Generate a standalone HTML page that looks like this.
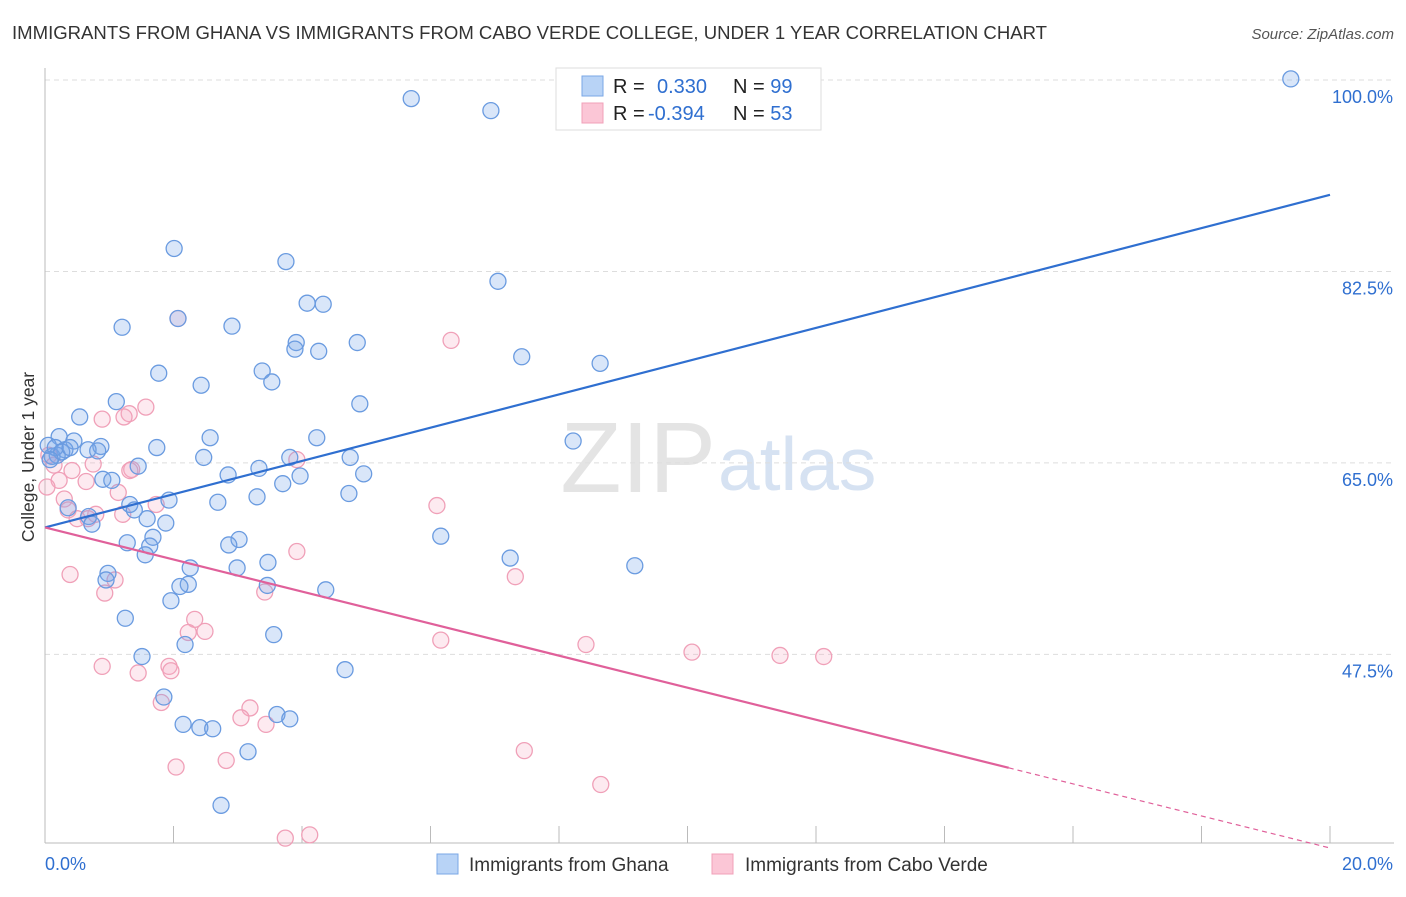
<!DOCTYPE html>
<html><head><meta charset="utf-8"><style>
body{margin:0;background:#fff;font-family:"Liberation Sans",sans-serif;}
svg text{font-family:"Liberation Sans",sans-serif;}
</style></head><body>
<svg id="c" width="1406" height="892" xmlns="http://www.w3.org/2000/svg">
<text x="12" y="39" font-size="18" fill="#333" textLength="1035" lengthAdjust="spacingAndGlyphs">IMMIGRANTS FROM GHANA VS IMMIGRANTS FROM CABO VERDE COLLEGE, UNDER 1 YEAR CORRELATION CHART</text>
<text x="1394" y="39" font-size="15" fill="#555" text-anchor="end" font-style="italic">Source: ZipAtlas.com</text>
<text x="716" y="492" font-size="100" fill="#e4e4e4" text-anchor="end" font-family="Liberation Serif">ZIP</text>
<text x="718" y="490" font-size="75" fill="#d6e2f2">atlas</text>
<text x="34" y="457" font-size="17.5" fill="#333" text-anchor="middle" transform="rotate(-90 34 457)">College, Under 1 year</text>
<g id="grid"></g><g id="pts"></g><g id="lines"></g>
<g>
<rect x="556" y="68" width="265" height="62" fill="#fff" stroke="#ddd"/>
<rect x="582" y="76" width="21" height="20" fill="#b8d3f6" stroke="#7aa7e6"/>
<rect x="582" y="103" width="21" height="20" fill="#fbc6d6" stroke="#f0a0b8"/>
<text x="613" y="93" font-size="20" fill="#222">R = <tspan x="657" fill="#2f6fd0">0.330</tspan><tspan x="733" fill="#222">N = </tspan><tspan fill="#2f6fd0">99</tspan></text>
<text x="613" y="120" font-size="20" fill="#222">R = <tspan x="648" fill="#2f6fd0">-0.394</tspan><tspan x="733" fill="#222">N = </tspan><tspan fill="#2f6fd0">53</tspan></text>
</g>
<g>
<rect x="437" y="854" width="21" height="20" fill="#b8d3f6" stroke="#7aa7e6"/>
<text x="469" y="871" font-size="19" fill="#333">Immigrants from Ghana</text>
<rect x="712" y="854" width="21" height="20" fill="#fbc6d6" stroke="#f0a0b8"/>
<text x="745" y="871" font-size="19" fill="#333">Immigrants from Cabo Verde</text>
</g>
</svg>
<script>
const yTicks=[100,82.5,65,47.5];
const yTickLabels=["100.0%","82.5%","65.0%","47.5%"];
const xTicks=[0,2,4,6,8,10,12,14,16,18,20];
const xTickLabels=["0.0%","20.0%"];
const ghanaX=[5.70,6.94,19.39,2.01,3.75,7.05,4.08,4.33,1.20,2.07,2.91,3.91,3.89,4.26,4.86,7.42,8.64,1.77,3.38,2.43,3.53,4.90,1.11,0.54,8.22,0.22,2.57,4.23,0.45,0.87,1.74,0.31,0.67,0.19,0.11,0.82,2.47,3.81,4.75,1.45,3.33,2.85,3.97,4.96,0.90,1.04,3.70,4.73,3.30,1.93,2.69,1.32,0.36,1.39,0.68,1.59,0.73,1.88,1.68,3.02,1.28,1.63,2.86,6.16,7.24,9.18,3.47,1.56,2.26,2.99,0.98,0.95,2.23,2.10,3.46,4.37,1.96,1.25,3.56,2.18,1.51,4.67,1.85,3.61,3.81,2.15,2.41,2.61,3.16,2.74,0.05,0.16,0.26,0.39,0.08];
const ghanaY=[98.3,97.2,100.1,84.6,83.4,81.6,79.6,79.5,77.4,78.2,77.5,76.0,75.4,75.2,76.0,74.7,74.1,73.2,73.4,72.1,72.4,70.4,70.6,69.2,67.0,67.4,67.3,67.3,67.0,66.5,66.4,66.2,66.2,65.7,65.6,66.1,65.5,65.5,65.5,64.7,64.5,63.9,63.8,64.0,63.5,63.4,63.1,62.2,61.9,61.6,61.4,61.2,60.9,60.7,60.1,59.9,59.4,59.5,58.2,58.0,57.7,57.4,57.5,58.3,56.3,55.6,55.9,56.6,55.4,55.4,54.9,54.3,53.9,53.7,53.8,53.4,52.4,50.8,49.3,48.4,47.3,46.1,43.6,42.0,41.6,41.1,40.8,40.7,38.6,33.7,66.6,66.4,66.0,66.4,65.3];
const caboX=[2.07,6.32,1.57,1.31,1.23,0.89,0.06,0.75,3.92,1.35,0.42,0.22,0.64,1.14,0.30,1.73,6.10,0.36,0.79,0.50,1.21,0.67,3.92,0.39,7.32,1.09,0.93,3.42,2.33,2.23,2.49,6.16,8.42,10.07,11.44,12.12,0.89,1.45,1.93,1.96,1.81,3.19,3.05,3.44,7.46,2.82,2.04,8.65,3.74,4.12,0.03,0.14,1.32];
const caboY=[78.2,76.2,70.1,69.5,69.2,69.0,65.7,64.9,65.3,64.4,64.3,63.4,63.3,62.3,61.7,61.2,61.1,60.7,60.3,59.9,60.3,59.9,56.9,54.8,54.6,54.3,53.1,53.2,50.7,49.5,49.6,48.8,48.4,47.7,47.4,47.3,46.4,45.8,46.4,46.0,43.1,42.6,41.7,41.1,38.7,37.8,37.2,35.6,30.7,31.0,62.8,64.8,64.3];
const ghanaTrend=[59.1,89.5];
const caboTrend=[59.1,29.8];
const caboSolidEnd=15.0;

const NS="http://www.w3.org/2000/svg";
const X0=45,X1=1330;
function sx(v){return X0+(v/20)*(X1-X0);}
function sy(v){return 80+(100-v)*10.94;}
function mk(tag,attrs,parent){const e=document.createElementNS(NS,tag);for(const k in attrs)e.setAttribute(k,attrs[k]);document.getElementById(parent).appendChild(e);return e;}
yTicks.forEach((t,i)=>{
 const l=mk('line',{x1:45,x2:1394,y1:sy(t),y2:sy(t),stroke:'#ddd','stroke-dasharray':'5,4'},'grid');
 
 
 const tx=mk('text',{x:1393,y:sy(t)+23,'font-size':18,fill:'#2f6fd0','text-anchor':'end'},'grid');
 tx.textContent=yTickLabels[i];
 
 
});
const ax=mk('line',{x1:45,x2:45,y1:68,y2:843,stroke:'#bbb'},'grid');


const bx=mk('line',{x1:45,x2:1394,y1:843,y2:843,stroke:'#bbb'},'grid');


xTicks.forEach(t=>{
 const l=mk('line',{x1:sx(t),x2:sx(t),y1:826,y2:843,stroke:'#bbb'},'grid');
 
 
});
const xl0=mk('text',{x:45,y:870,'font-size':18,fill:'#2f6fd0'},'grid');xl0.textContent=xTickLabels[0];


const xl1=mk('text',{x:1393,y:870,'font-size':18,fill:'#2f6fd0','text-anchor':'end'},'grid');xl1.textContent=xTickLabels[1];


caboX.forEach((v,i)=>{
 const c=mk('circle',{cx:sx(v),cy:sy(caboY[i]),r:8,fill:'rgba(246,170,195,0.25)',stroke:'#f0a0b8','stroke-width':1.3},'pts');
 
 
});
ghanaX.forEach((v,i)=>{
 const c=mk('circle',{cx:sx(v),cy:sy(ghanaY[i]),r:8,fill:'rgba(120,165,235,0.28)',stroke:'#6a9be0','stroke-width':1.3},'pts');
 
 
});
const bl=mk('line',{x1:sx(0),y1:sy(ghanaTrend[0]),x2:sx(20),y2:sy(ghanaTrend[1]),stroke:'#2f6fd0','stroke-width':2.2},'lines');


const pm=caboTrend[0]+(caboTrend[1]-caboTrend[0])*caboSolidEnd/20;
const pl=mk('line',{x1:sx(0),y1:sy(caboTrend[0]),x2:sx(caboSolidEnd),y2:sy(pm),stroke:'#e0609a','stroke-width':2.2},'lines');


const pd=mk('line',{x1:sx(caboSolidEnd),y1:sy(pm),x2:sx(20),y2:sy(caboTrend[1]),stroke:'#e0609a','stroke-width':1.2,'stroke-dasharray':'5,4'},'lines');


</script>
</body></html>
